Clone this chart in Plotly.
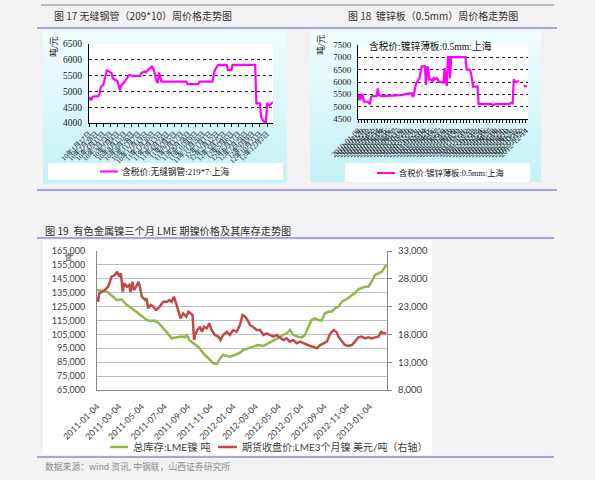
import plotly.graph_objects as go
import pandas as pd

W, H = 595, 480

# ---------------- Chart 1: 无缝钢管 weekly price (week index) ----------------
c1_week = [0, 1, 2, 3, 8, 9, 10, 12, 13, 15, 17, 19, 20, 23, 24, 26, 27, 29, 31, 34,
           37, 43, 44, 47, 48, 50, 51, 53, 54, 55, 57, 58, 59, 60, 61, 82, 83, 92, 93, 104,
           106, 109, 116, 117, 120, 121, 140, 141, 144, 145, 147, 148, 149, 150, 152, 154, 155]
c1_price = [4720, 4810, 4720, 4830, 4850, 4940, 5150, 5200, 5350, 5660, 5630, 5580, 5415, 5360, 5320, 5040, 5170, 5255, 5360, 5520,
            5490, 5490, 5575, 5630, 5610, 5680, 5730, 5790, 5740, 5630, 5310, 5280, 5600, 5470, 5310, 5310, 5230, 5230, 5310, 5310,
            5680, 5840, 5840, 5680, 5680, 5840, 5840, 4620, 4620, 4190, 4085, 4000, 4000, 4620, 4560, 4640, 4660]
c1_tickpos = [0, 6, 12, 18, 24, 30, 36, 42, 48, 54, 60, 66, 72, 78, 84, 90, 96, 102, 108, 114, 120, 126, 132, 138, 144, 150]
c1_ticklabels = ["10年1月17日", "10年2月28日", "10年4月11日", "10年5月23日", "10年7月4日", "10年8月15日",
                 "10年9月26日", "10年11月7日", "10年12月19日", "11年1月30日", "11年3月13日", "11年4月24日",
                 "11年6月5日", "11年7月17日", "11年8月28日", "11年10月9日", "11年11月20日", "12年1月1日",
                 "12年2月12日", "12年3月25日", "12年5月6日", "12年6月17日", "12年7月29日", "12年9月9日",
                 "12年10月21日", "12年12月2日"]

# ---------------- Chart 2: 镀锌板 weekly price (week index) ----------------
c2_week = [0, 1, 2, 3, 4, 5, 6, 9, 11, 12, 13, 17, 18, 19, 21, 40, 46, 49, 50, 51,
           53, 55, 56, 58, 61, 62, 63, 64, 65, 67, 68, 69, 70, 72, 74, 78, 79, 80, 81, 82,
           83, 84, 85, 98, 99, 102, 103, 105, 109, 110, 122, 123, 125, 137, 140, 141, 142, 143, 146, 147,
           150, 151, 154]
c2_price = [5260, 5470, 5260, 5470, 5510, 5260, 5200, 5200, 5100, 5400, 5430, 5430, 5740, 5470, 5430, 5470, 5540, 5540, 5400, 5510,
            5945, 6080, 6150, 6630, 6630, 5880, 6630, 6560, 6100, 6100, 6010, 6190, 6100, 6150, 6010, 5970, 6560, 6080, 5840, 7010,
            7010, 6150, 7010, 7010, 6500, 6500, 6360, 5810, 5810, 5100, 5100, 5060, 5100, 5100, 5150, 5130, 6110, 6010, 6010, 6030,
            None, 5830, 5830]
c2_tickpos = list(range(0, 156, 3))
c2_ticklabels = ["2010-01-08", "2010-01-29", "2010-02-19", "2010-03-12", "2010-04-02", "2010-04-23", "2010-05-14",
                 "2010-06-04", "2010-06-25", "2010-07-16", "2010-08-06", "2010-08-27", "2010-09-17", "2010-10-08",
                 "2010-10-29", "2010-11-19", "2010-12-10", "2010-12-31", "2011-01-21", "2011-02-11", "2011-03-04",
                 "2011-03-25", "2011-04-15", "2011-05-06", "2011-05-27", "2011-06-17", "2011-07-08", "2011-07-29",
                 "2011-08-19", "2011-09-09", "2011-09-30", "2011-10-21", "2011-11-11", "2011-12-02", "2011-12-23",
                 "2012-01-13", "2012-02-03", "2012-02-24", "2012-03-16", "2012-04-06", "2012-04-27", "2012-05-18",
                 "2012-06-08", "2012-06-29", "2012-07-20", "2012-08-10", "2012-08-31", "2012-09-21", "2012-10-12",
                 "2012-11-02", "2012-11-23", "2012-12-14"]

# ---------------- Chart 3: LME nickel inventory & 3M price ----------------
c3_start = "2011-01-04"
inv_day = [0, 26, 43, 53, 66, 80, 93, 106, 120, 133, 142, 155, 164, 178, 191, 200, 214, 227, 236, 240,
           247, 258, 271, 285, 298, 312, 321, 330, 338, 348, 356, 370, 383, 392, 405, 419, 432, 446, 459, 472,
           486, 499, 508, 517, 526, 539, 549, 557, 566, 575, 584, 593, 602, 611, 620, 629, 638, 647, 656, 664,
           673, 683, 691, 700, 709, 718, 727, 736, 745, 754, 763, 769, 775]
inv_val = [136900, 135700, 132100, 129700, 130200, 126100, 123800, 121300, 118200, 115400, 114600, 114900, 113400, 109400, 105100, 102200, 102900, 103400, 102900, 105100,
           101000, 98600, 96200, 91400, 87800, 84200, 83700, 87800, 90200, 89500, 89000, 90200, 91800, 93800, 95000, 96200, 97400, 96700, 98600, 101000,
           102500, 105000, 105800, 108200, 104600, 103300, 102900, 104600, 110500, 115400, 116600, 115400, 114900, 120200, 121300, 121300, 123800, 125000, 128600, 129700,
           131000, 133300, 134600, 137400, 138200, 139300, 139300, 142900, 147700, 149000, 150100, 152500, 154900]
pr_day = [0, 3, 6, 13, 21, 30, 35, 39, 48, 54, 60, 64, 69, 73, 80, 86, 90, 95, 99, 105,
          111, 115, 120, 129, 133, 137, 144, 151, 158, 164, 171, 178, 187, 194, 200, 206, 212, 218, 224, 231,
          239, 245, 251, 256, 260, 263, 269, 276, 281, 287, 294, 301, 307, 316, 325, 331, 338, 348, 356, 365,
          374, 383, 390, 397, 403, 410, 419, 428, 437, 446, 455, 464, 472, 481, 490, 499, 508, 517, 526, 535,
          544, 553, 562, 571, 580, 589, 598, 607, 616, 623, 629, 635, 641, 647, 656, 664, 673, 683, 691, 700,
          709, 718, 727, 736, 745, 754, 761, 767, 775]
pr_val = [24780, 23880, 25390, 25680, 25990, 26580, 27780, 28380, 28680, 29280, 28380, 28990, 25680, 27190, 26580, 26880, 25680, 27480, 25990, 26580,
          27480, 26580, 24780, 24190, 24490, 22690, 23290, 22980, 22390, 22690, 23290, 23880, 23880, 24190, 23880, 24780, 23590, 22080, 20890, 21790,
          21190, 22080, 21790, 21490, 16990, 17890, 18790, 19380, 18480, 19380, 19090, 19990, 18790, 17890, 17590, 16990, 17890, 18480, 17890, 18790,
          18480, 19690, 21490, 21190, 20590, 19690, 19270, 18790, 18790, 17890, 18190, 17890, 17590, 17890, 17400, 16990, 17290, 16690, 16990, 16390,
          16690, 16390, 16090, 15910, 15790, 15500, 16090, 16390, 16690, 17890, 18480, 18790, 18480, 17590, 16690, 16090, 15910, 16090, 16690, 17470,
          17590, 17290, 17470, 17290, 17470, 17590, 18480, 18190, 18190]
c3_ticks = ["2011-01-04", "2011-03-04", "2011-05-04", "2011-07-04", "2011-09-04", "2011-11-04", "2012-01-04",
            "2012-03-04", "2012-05-04", "2012-07-04", "2012-09-04", "2012-11-04", "2013-01-04"]

inv_dates = pd.Timestamp(c3_start) + pd.to_timedelta(inv_day, unit="D")
pr_dates = pd.Timestamp(c3_start) + pd.to_timedelta(pr_day, unit="D")

# ---------------- helpers ----------------
def px(x):
    return x / W

def py(y):
    return 1 - y / H

shapes = []
annots = []

def rect(x0, y0, x1, y1, fill, layer="below", line=None):
    shapes.append(dict(type="rect", xref="paper", yref="paper", x0=px(x0), x1=px(x1),
                       y0=py(y1), y1=py(y0), fillcolor=fill,
                       line=line if line else dict(width=0), layer=layer))

def hline(x0, x1, y, color, width=1, layer="above"):
    shapes.append(dict(type="line", xref="paper", yref="paper", x0=px(x0), x1=px(x1),
                       y0=py(y), y1=py(y), line=dict(color=color, width=width), layer=layer))

def text(x, y, s, size, color="#333333", family="Noto Sans CJK SC", xanchor="left", angle=0):
    annots.append(dict(x=px(x), y=py(y), xref="paper", yref="paper", text=s, showarrow=False,
                       xanchor=xanchor, yanchor="middle", textangle=angle,
                       font=dict(size=size, color=color, family=family)))

def gradient(x0, y0, x1, y1, c_top, c_bot, n=24):
    h = (y1 - y0) / n
    for i in range(n):
        t = i / (n - 1)
        c = tuple(round(c_top[k] + (c_bot[k] - c_top[k]) * t) for k in range(3))
        rect(x0, y0 + i * h, x1, y0 + (i + 1) * h + 0.5, "rgb(%d,%d,%d)" % c)

CJK = "Noto Sans CJK SC"
SERIF = "Liberation Serif, Noto Sans CJK SC"
SANS = "Lato, Noto Sans CJK SC"
LAV = "#8c8cd6"
PAGE = "#f2f2f2"

# backgrounds chart 1 & 2
gradient(43, 30, 287, 183, (240, 252, 253), (196, 241, 246))
rect(89, 44, 273, 123, "white")
rect(48, 163, 283, 180, "white")
gradient(310, 30, 541, 182, (240, 252, 253), (196, 241, 246))
rect(358, 45, 528, 119, "white")
rect(345, 163, 530, 182, "white")
# background chart 3
rect(43, 240, 432, 455, "white")

# separator lines
hline(41, 554, 5, "#808080", 1)
hline(37, 557, 28, LAV, 1.5)
hline(37, 557, 190, LAV, 1.5)
hline(37, 554, 238, LAV, 1.5)
hline(37, 554, 457, LAV, 1.5)

# titles
text(52, 16, "图 17 无缝钢管（209*10）周价格走势图", 10)
text(346, 16, "图 18  镀锌板（0.5mm）周价格走势图", 10)
text(43, 230, "图 19  有色金属镍三个月 LME 期镍价格及其库存走势图", 10.2)
text(43, 466, "数据来源：wind 资讯, 中钢联，山西证券研究所", 8.8, color="#8c8c8c")

# axis unit labels
text(54, 47, "吨/元", 9, color="#222222", family=SERIF, xanchor="center", angle=-90)
text(320, 45, "吨/元", 9, color="#222222", family=SERIF, xanchor="center", angle=-90)
text(68, 257, "吨", 8, color="#404040", family=CJK, xanchor="center", angle=-90)

# chart 2 inner title
text(430, 46, "含税价:镀锌薄板:0.5mm:上海", 9.7, color="#111111", family=SERIF, xanchor="center")

# legends chart 1 & 2
hline(100, 118, 171.5, "#ff00ff", 2)
text(120, 171.5, "含税价:无缝钢管:219*7:上海", 8.7, color="#111111", family=SERIF)
hline(377, 395, 173, "#ff00ff", 2)
text(397, 173, "含税价:镀锌薄板:0.5mm:上海", 8.3, color="#111111", family=SERIF)

# legend chart 3
GREEN = "#92b84c"
RED = "#be4b48"
hline(110, 128, 447, GREEN, 2.5)
text(131, 447, "总库存:LME镍 吨", 10.3, color="#404040", family=SANS)
hline(218, 237, 447, RED, 2.5)
text(240, 447, "期货收盘价:LME3个月镍 美元/吨（右轴）", 10, color="#404040", family=SANS)

fig = go.Figure()
fig.add_trace(go.Scatter(x=c1_week, y=c1_price, xaxis="x", yaxis="y", mode="lines",
                         line=dict(color="#ff00ff", width=2.2), showlegend=False, hoverinfo="skip"))
fig.add_trace(go.Scatter(x=c2_week, y=c2_price, xaxis="x2", yaxis="y2", mode="lines",
                         line=dict(color="#ff00ff", width=2.2), connectgaps=False,
                         showlegend=False, hoverinfo="skip"))
fig.add_trace(go.Scatter(x=inv_dates, y=inv_val, xaxis="x3", yaxis="y3", mode="lines",
                         name="总库存:LME镍 吨", line=dict(color=GREEN, width=2.5),
                         showlegend=False, hoverinfo="skip"))
fig.add_trace(go.Scatter(x=pr_dates, y=pr_val, xaxis="x3", yaxis="y4", mode="lines",
                         name="期货收盘价:LME3个月镍 美元/吨（右轴）", line=dict(color=RED, width=2.5),
                         showlegend=False, hoverinfo="skip"))

small_serif = dict(family=SERIF, size=7, color="#111111")

fig.update_layout(
    template="none",
    width=W, height=H, autosize=False,
    margin=dict(l=0, r=0, t=0, b=0, pad=0),
    paper_bgcolor=PAGE, plot_bgcolor="rgba(0,0,0,0)",
    showlegend=False,
    shapes=shapes, annotations=annots,
    xaxis=dict(domain=[px(89), px(273)], anchor="y", range=[0, 155], automargin=False,
               tickmode="array", tickvals=c1_tickpos, ticktext=c1_ticklabels,
               tickangle=-45, tickfont=small_serif, ticks="outside", ticklen=3,
               tickcolor="#000000", showline=True, linecolor="#000000", linewidth=1,
               showgrid=False, zeroline=False),
    yaxis=dict(domain=[py(123), py(44)], anchor="x", range=[4000, 6500], tick0=4000, dtick=500,
               automargin=False,
               tickfont=dict(family=SERIF, size=9.5, color="#222222"),
               showgrid=True, gridcolor="#222222", griddash="dot", gridwidth=1,
               showline=True, linecolor="#000000", linewidth=1, zeroline=False,
               ticks="", ticklabelstandoff=4),
    xaxis2=dict(domain=[px(358), px(528)], anchor="y2", range=[0, 155], automargin=False,
                tickmode="array", tickvals=c2_tickpos, ticktext=c2_ticklabels,
                tickangle=-45, tickfont=dict(family=SERIF, size=8, color="#222222"),
                ticks="outside", ticklen=3, tickcolor="#000000",
                showline=True, linecolor="#000000", linewidth=1,
                showgrid=False, zeroline=False),
    yaxis2=dict(domain=[py(119), py(45)], anchor="x2", range=[4500, 7500], tick0=4500, dtick=500,
                automargin=False,
                tickfont=dict(family=SERIF, size=9, color="#222222"),
                showgrid=True, gridcolor="#222222", griddash="dot", gridwidth=1,
                showline=True, linecolor="#000000", linewidth=1, zeroline=False,
                ticks="", ticklabelstandoff=4),
    xaxis3=dict(domain=[px(97), px(387)], anchor="y3", type="date", automargin=False,
                range=["2011-01-04", "2013-02-19"],
                tickmode="array", tickvals=c3_ticks, ticktext=c3_ticks, tickangle=-45,
                tickfont=dict(family=SANS, size=8.7, color="#404040"),
                showline=True, linecolor="#868686", linewidth=1, showgrid=False,
                zeroline=False, ticks="", ticklabelstandoff=7),
    yaxis3=dict(domain=[py(390), py(251)], anchor="x3", range=[65000, 165000],
                tick0=65000, dtick=10000, automargin=False,
                tickformat=",d", tickfont=dict(family=SANS, size=9, color="#404040"),
                showgrid=True, gridcolor="#bfbfbf", gridwidth=1,
                showline=True, linecolor="#868686", linewidth=1, zeroline=False,
                ticks="", ticklabelstandoff=9),
    yaxis4=dict(overlaying="y3", anchor="x3", side="right", range=[8000, 33000],
                tick0=8000, dtick=5000, automargin=False,
                tickformat=",d", tickfont=dict(family=SANS, size=9.5, color="#404040"),
                showgrid=False, showline=True, linecolor="#868686", linewidth=1,
                zeroline=False, ticks="outside", ticklen=4, tickcolor="#868686",
                ticklabelstandoff=4),
)

fig.write_html(
    "out.html",
    config={"displayModeBar": False},
    post_script="document.body.style.margin='0';document.body.style.background='%s';" % PAGE,
)
